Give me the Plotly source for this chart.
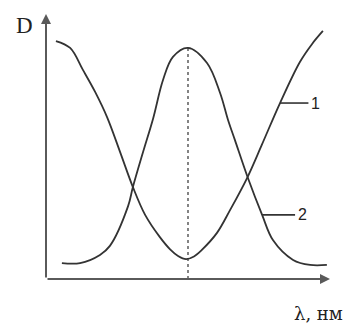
import plotly.graph_objects as go

# Wavelength (arbitrary units, 0..100) and optical density (arbitrary units, 0..100)
lam_1 = [3.5, 8.5, 13.0, 17.3, 21.5, 26.1, 30.6, 34.9, 40.1, 43.7, 46.5, 49.3,
         52.1, 54.8, 60.2, 64.8, 70.8, 76.1, 82.4, 89.4, 93.7, 97.5]
d_1 = [89.8, 87.2, 78.9, 70.6, 61.1, 47.9, 34.7, 24.2, 15.8, 11.2, 8.7, 7.5,
       8.5, 10.9, 17.4, 26.0, 38.1, 50.9, 66.4, 81.9, 88.7, 93.6]

lam_2 = [5.6, 12.0, 19.0, 22.5, 28.9, 30.6, 34.2, 37.7, 41.2, 44.7, 50.0,
         56.7, 61.3, 64.1, 66.5, 71.1, 76.1, 79.9, 87.0, 93.0, 98.9]
d_2 = [6.0, 6.0, 9.1, 12.5, 27.5, 34.7, 48.0, 60.5, 75.1, 83.8, 87.2,
       81.5, 70.2, 60.0, 52.5, 38.1, 24.2, 14.7, 7.2, 5.3, 5.3]

curve_labels = ["1", "2"]
label_anchor = [18, 16]      # index of the point each leader line starts from
leader_len = [10.0, 11.6]    # leader line length along λ

line_col = "#333333"
axis_col = "#5a5a5a"

fig = go.Figure()
for lam, d in [(lam_1, d_1), (lam_2, d_2)]:
    fig.add_trace(go.Scatter(x=lam, y=d, mode="lines", line_shape="spline",
                             line=dict(color=line_col, width=1.8),
                             hoverinfo="skip", showlegend=False))

# dotted marker through the absorption maximum of curve 2
i_peak = d_2.index(max(d_2))
fig.add_trace(go.Scatter(x=[lam_2[i_peak], lam_2[i_peak]], y=[0, d_2[i_peak]],
                         mode="lines", line=dict(color=line_col, width=1.2, dash="dot"),
                         hoverinfo="skip", showlegend=False))

# leader lines with curve numbers
for lab, (lam, d), idx, ln in zip(curve_labels, [(lam_1, d_1), (lam_2, d_2)],
                                  label_anchor, leader_len):
    x0, y0 = lam[idx], d[idx]
    fig.add_trace(go.Scatter(x=[x0, x0 + ln], y=[y0, y0], mode="lines",
                             line=dict(color=line_col, width=1.6),
                             hoverinfo="skip", showlegend=False))
    fig.add_annotation(x=x0 + ln, y=y0, text=lab, showarrow=False,
                       xanchor="left", xshift=1,
                       font=dict(family="Liberation Sans", size=16, color="#222"))

# axes drawn as arrows
fig.add_annotation(x=0, y=1, xref="paper", yref="paper", ax=0, ay=265,
                   showarrow=True, arrowhead=2, arrowsize=1, arrowwidth=2,
                   arrowcolor=axis_col, text="")
fig.add_annotation(x=1, y=0, xref="paper", yref="paper", ax=-284, ay=0,
                   showarrow=True, arrowhead=2, arrowsize=1, arrowwidth=2,
                   arrowcolor=axis_col, text="")

fig.add_annotation(x=-0.075, y=0.955, xref="paper", yref="paper", text="D",
                   showarrow=False, xanchor="center", yanchor="middle",
                   font=dict(family="Liberation Serif", size=23, color="#222"))
fig.add_annotation(x=1.053, y=-0.13, xref="paper", yref="paper", text="λ, нм",
                   showarrow=False, xanchor="right", yanchor="middle",
                   font=dict(family="DejaVu Serif", size=18, color="#222"))

fig.update_xaxes(range=[0, 100], visible=False, fixedrange=True)
fig.update_yaxes(range=[0, 100], visible=False, fixedrange=True)
fig.update_layout(width=347, height=334, margin=dict(l=46, r=17, t=14, b=55),
                  plot_bgcolor="white", paper_bgcolor="white")

fig.write_html("out.html")
